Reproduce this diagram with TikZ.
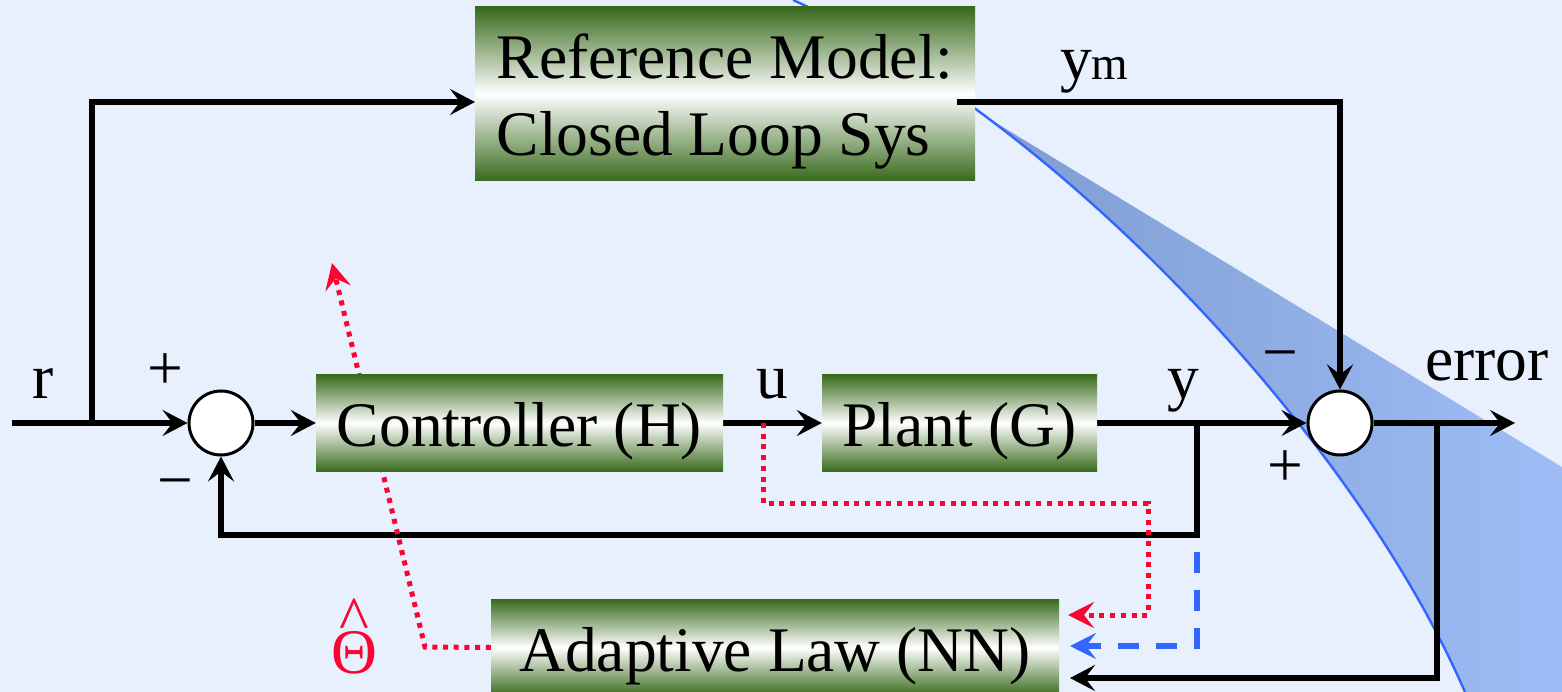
\documentclass[tikz,border=0pt]{standalone}
\usepackage{fontspec}
\setmainfont{Liberation Serif}
\usetikzlibrary{arrows.meta}
\definecolor{bgc}{RGB}{232,240,254}
\definecolor{dkg}{RGB}{56,106,28}
\definecolor{wedgeL}{RGB}{125,155,207}
\definecolor{wedgeR}{RGB}{158,189,246}
\definecolor{curveblue}{RGB}{51,102,255}
\definecolor{redc}{RGB}{250,5,50}
\pgfdeclarelayer{bg}
\pgfdeclarelayer{mid}
\pgfsetlayers{bg,mid,main}
\begin{document}
\begin{tikzpicture}[x=1pt,y=-1pt,
  font=\rmfamily\fontsize{63.5}{77}\selectfont,
  blk/.style={inner sep=0pt, top color=dkg, bottom color=dkg, middle color=white, text height=60pt, text depth=13pt},
  sumj/.style={circle, draw=black, fill=white, line width=3pt, minimum size=64pt, inner sep=0pt},
  arr/.style={draw=black, line width=5.3pt, -{Stealth[length=25pt,width=26pt,inset=10pt]}},
  reddot/.style={draw=redc, line width=5pt, dash pattern=on 5pt off 5.7pt, -{Stealth[length=26pt,width=26pt,inset=10pt]}},
  bluedash/.style={draw=curveblue, line width=5.2pt, dash pattern=on 21pt off 17pt, -{Stealth[length=26pt,width=26pt,inset=10pt]}},
  lbl/.style={inner sep=0pt, anchor=base}
]
\useasboundingbox (0,0) rectangle (1562,692);

% background and wedge
\begin{pgfonlayer}{bg}
\fill[bgc] (0,0) rectangle (1562,692);
\begin{scope}
\clip (793,0) .. controls (1047,114) and (1349,426) .. (1465,692) -- (1562,692) -- (1562,0) -- cycle;
\clip (700,-57) -- (1562,467) -- (1562,692) -- (700,692) -- cycle;
\shade[left color=wedgeL, right color=wedgeR] (960,0) rectangle (1562,692);
\end{scope}
\draw[curveblue, line width=2.4pt] (793,0) .. controls (1047,114) and (1349,426) .. (1465,692);
\end{pgfonlayer}

% blocks
\node[blk, minimum width=500pt, minimum height=174pt] (ref) at (725,94) {};
\node[inner sep=0pt, align=left] (reftxt) at (725,101.7) {Reference Model:\\Closed Loop Sys};
\node[blk, minimum width=407pt, minimum height=97pt] (ctrl) at (519.5,423) {Controller (H)};
\node[blk, minimum width=275pt, minimum height=97pt] (plant) at (959.5,423) {Plant (G)};
\node[blk, minimum width=568pt, minimum height=97pt] (adapt) at (775,647.5) {Adaptive Law (NN)};
\node[sumj] (s1) at (221,423) {};
\node[sumj] (s2) at (1340,423) {};

% coordinates
\coordinate (in) at (12,423);
\coordinate (br1) at (92,423);
\coordinate (refin) at (475,102);
\coordinate (ymst) at (957,102);
\coordinate (br2) at (1197,423);
\coordinate (fb) at (1197,535);
\coordinate (br3) at (1437,423);
\coordinate (out) at (1515,423);
\coordinate (a1) at (1068,615);
\coordinate (a2) at (1070,646);
\coordinate (a3) at (1070,678);
\coordinate (rst) at (763,423);
\coordinate (rc1) at (1148,503);
\coordinate (bst) at (1197,552);
\coordinate (tk) at (425,647);
\coordinate (ttip) at (332,263);

% connectors
\begin{pgfonlayer}{mid}
\draw[arr] (in) -- (s1);
\draw[arr] (br1) |- (refin);
\draw[arr] (s1) -- (ctrl);
\draw[arr] (ctrl) -- (plant);
\draw[arr] (plant) -- (s2);
\draw[arr] (s2) -- (out);
\draw[arr] (br2) -- (fb) -| (s1);
\draw[arr] (br3) |- (a3);
\draw[reddot] (rst) |- (rc1) |- (a1);
\draw[bluedash] (bst) |- (a2);
\draw[reddot] (adapt.west) -- (tk) -- (ttip);
\end{pgfonlayer}
\draw[arr] (ymst) -| (s2);

% labels
\node[lbl] (rlab) at (43,398) {r};
\node[lbl] (p1) at (165,389) {+};
\node[lbl] (m1) at (175,501) {−};
\node[lbl] (ulab) at (772,398) {u};
\node[lbl] (ylab) at (1183,398) {y};
\node[lbl, anchor=base west] (ymlab) at (1060,80) {y{\fontsize{47}{50}\selectfont m}};
\node[lbl] (m2) at (1280,373) {−};
\node[lbl] (p2) at (1285,486) {+};
\node[lbl, anchor=base west] (errlab) at (1425,380) {error};
\node[lbl, text=redc] (theta) at (354,673) {\ooalign{Θ\cr\hidewidth\raisebox{33pt}{\textasciicircum}\hidewidth\cr}};
\end{tikzpicture}
\end{document}
